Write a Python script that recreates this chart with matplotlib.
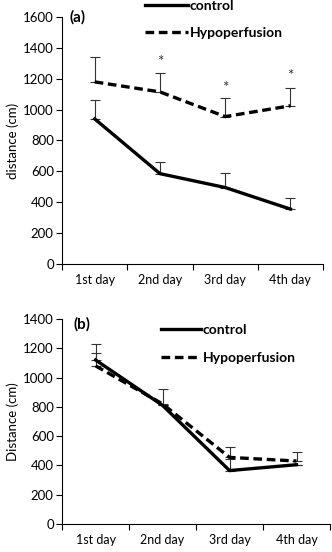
import matplotlib
matplotlib.use("Agg")
import matplotlib.pyplot as plt
import numpy as np

plt.rcParams['font.family'] = ['Lato', 'DejaVu Sans']

days = ["1st day", "2nd day", "3rd day", "4th day"]

# Panel (a)
a_control = [940, 585, 495, 355]
a_control_err = [120, 75, 95, 70]
a_hypo = [1180, 1115, 955, 1025]
a_hypo_err = [160, 125, 120, 115]
a_star_y = [None, 1310, 1140, 1215]

# Panel (b)
b_control = [1120, 810, 365, 405]
b_control_err = [110, 0, 80, 0]
b_hypo = [1080, 820, 455, 430]
b_hypo_err = [85, 100, 70, 65]

fig = plt.figure(figsize=(3.32, 5.52), dpi=100)
ax1 = fig.add_axes([0.187, 0.522, 0.786, 0.447])
ax2 = fig.add_axes([0.187, 0.0507, 0.807, 0.3714])

x = np.arange(len(days)) + 0.5

def style(ax, ymax, step, ylabel):
    ax.set_xlim(0, len(days))
    ax.set_ylim(0, ymax)
    ax.set_yticks(np.arange(0, ymax + 1, step))
    ax.set_xticks(x)
    ax.set_xticklabels(days)
    ax.set_xticks(np.arange(0, len(days) + 1), minor=True)
    ax.tick_params(axis='x', which='major', length=0, labelsize=9, pad=7)
    ax.tick_params(axis='x', which='minor', length=4, direction='out', width=0.8)
    ax.tick_params(axis='y', length=4, direction='out', width=0.8, labelsize=9.5, pad=2)
    for s in ['top', 'right']:
        ax.spines[s].set_visible(False)
    for s in ['left', 'bottom']:
        ax.spines[s].set_linewidth(0.8)
    ax.set_ylabel(ylabel, fontsize=9.5, labelpad=3)

ekw = dict(fmt='none', ecolor='#333333', elinewidth=0.8, capsize=3.5, capthick=0.8)
dash = (0, (2.6, 1.4))

# (a)
ax1.errorbar(x, a_control, yerr=[np.zeros(4), a_control_err], **ekw)
ax1.errorbar(x, a_hypo, yerr=[np.zeros(4), a_hypo_err], **ekw)
l1, = ax1.plot(x, a_control, color='black', lw=2.4, label='control')
l2, = ax1.plot(x, a_hypo, color='black', lw=2.4, ls=dash, label='Hypoperfusion')
for xi, sy in zip(x, a_star_y):
    if sy is not None:
        ax1.text(xi, sy, '*', ha='center', va='center', fontsize=11, color='#333333')
style(ax1, 1600, 200, 'distance (cm)')
fig.text(70 / 332, 1 - 17 / 552, '(a)', fontsize=11, fontweight='bold', va='center', ha='left')
leg1 = fig.legend(handles=[l1, l2], loc='upper left', bbox_to_anchor=(145 / 332, 1.0),
                  bbox_transform=fig.transFigure, frameon=False, borderpad=0,
                  fontsize=10, handlelength=3.1, handletextpad=0.1, labelspacing=1.1, borderaxespad=0)
for t in leg1.get_texts():
    t.set_fontweight('bold')

# (b)
ax2.errorbar(x, b_control, yerr=[np.zeros(4), b_control_err], **ekw)
ax2.errorbar(x, b_hypo, yerr=[np.zeros(4), b_hypo_err], **ekw)
m1, = ax2.plot(x, b_control, color='black', lw=2.4, label='control')
m2, = ax2.plot(x, b_hypo, color='black', lw=2.4, ls=dash, label='Hypoperfusion')
style(ax2, 1400, 200, 'Distance (cm)')
fig.text(73 / 332, 1 - 324 / 552, '(b)', fontsize=11, fontweight='bold', va='center', ha='left')
leg2 = fig.legend(handles=[m1, m2], loc='upper left', bbox_to_anchor=(161 / 332, 1 - 324 / 552),
                  bbox_transform=fig.transFigure, frameon=False, borderpad=0,
                  fontsize=10, handlelength=2.9, handletextpad=0.1, labelspacing=1.15, borderaxespad=0)
for t in leg2.get_texts():
    t.set_fontweight('bold')

fig.savefig('out.png', dpi=100)
